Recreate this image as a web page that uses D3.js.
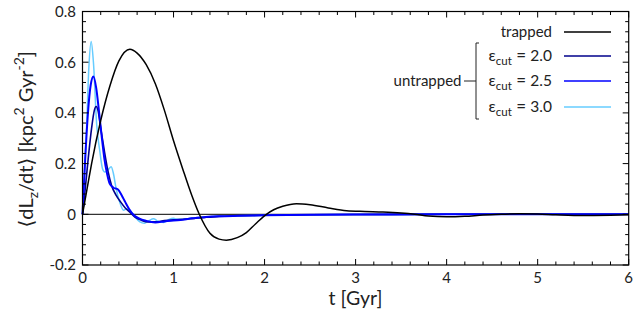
<!DOCTYPE html>
<html><head><meta charset="utf-8">
<script src="https://cdn.jsdelivr.net/npm/d3@7"></script>
<style>
html,body{margin:0;padding:0;background:#fff;}
svg text{font-family:Lato,"DejaVu Sans",sans-serif;fill:#222;}
</style></head>
<body>
<svg id="chart" width="635" height="321"></svg>
<script>
// ---------- data ----------
const xTicks = [0, 1, 2, 3, 4, 5, 6];
const yTicks = [-0.2, 0, 0.2, 0.4, 0.6, 0.8];
const yTickLabels = ["-0.2", "0", "0.2", "0.4", "0.6", "0.8"];

const trappedT = [0,0.05,0.1,0.2,0.3,0.4,0.52,0.6,0.7,0.8,0.9,1.0,1.1,1.2,1.283,1.4,1.5,1.58,1.7,1.8,1.9,2.02,2.1,2.2,2.35,2.5,2.7,2.9,3.1,3.3,3.5,3.65,3.8,4.0,4.2,4.4,4.6,4.8,5.0,5.2,5.5,5.8,6.0];
const trappedV = [0,0.10,0.20,0.37,0.505,0.605,0.651,0.636,0.59,0.515,0.41,0.29,0.18,0.075,0,-0.075,-0.098,-0.102,-0.092,-0.072,-0.038,0,0.018,0.032,0.042,0.038,0.025,0.014,0.011,0.009,0.005,0,-0.007,-0.01,-0.008,-0.003,0,0.002,0.001,-0.002,-0.005,-0.004,-0.002];

const eps20T = [0,0.03,0.06,0.1,0.13,0.15,0.17,0.2,0.24,0.28,0.32,0.37,0.42,0.47,0.52,0.58,0.65,0.72,0.8,0.9,1.0,1.1,1.2,1.35,1.5,1.7,2.0,2.5,3,4,5,6];
const eps20V = [0,0.10,0.21,0.34,0.41,0.425,0.41,0.34,0.25,0.17,0.113,0.075,0.048,0.025,0.008,-0.012,-0.024,-0.03,-0.03,-0.025,-0.022,-0.02,-0.017,-0.012,-0.008,-0.006,-0.004,-0.002,-0.001,0,0,0];

const eps25T = [0,0.03,0.06,0.09,0.12,0.15,0.18,0.21,0.24,0.27,0.3,0.34,0.39,0.43,0.47,0.51,0.56,0.62,0.7,0.8,0.9,1.0,1.1,1.2,1.35,1.5,1.7,2.0,2.5,3,4,5,6];
const eps25V = [0,0.22,0.40,0.51,0.544,0.50,0.41,0.31,0.22,0.16,0.12,0.105,0.098,0.075,0.048,0.022,-0.002,-0.016,-0.026,-0.032,-0.028,-0.024,-0.022,-0.016,-0.011,-0.008,-0.006,-0.004,-0.002,-0.001,0,0,0];

const eps30T = [0,0.02,0.046,0.07,0.095,0.12,0.156,0.19,0.22,0.245,0.28,0.315,0.34,0.37,0.41,0.45,0.49,0.53,0.58,0.63,0.68,0.73,0.78,0.83,0.89,0.95,1.0,1.05,1.1,1.2,1.35,1.5,1.7,2.0,2.5,3,4,5,6];
const eps30V = [0,0.15,0.353,0.58,0.682,0.60,0.353,0.25,0.18,0.167,0.175,0.188,0.16,0.10,0.047,0.016,0.022,0.012,-0.012,-0.03,-0.035,-0.025,-0.018,-0.027,-0.032,-0.02,-0.016,-0.02,-0.02,-0.015,-0.011,-0.008,-0.006,-0.004,-0.002,-0.001,0,0,0];

const seriesNames = ["trapped", "2.0", "2.5", "3.0"];
const seriesColors = ["#000000", "#00008b", "#0000ff", "#66ccff"];
const seriesWidths = [1.5, 1.6, 2.0, 1.5];

// ---------- layout ----------
const svg = d3.select("#chart");
const L = 82.5, R = 628.7, T = 11.5, B = 265;
const x = d3.scaleLinear().domain([0, 6]).range([L, R]);
const y = d3.scaleLinear().domain([-0.2, 0.8]).range([B, T]);

// zero line
svg.append("line").attr("x1", x(0)).attr("x2", x(6)).attr("y1", y(0)).attr("y2", y(0))
  .attr("stroke", "#000").attr("stroke-width", 1);

// series
const line = d3.line().x(d => x(d[0])).y(d => y(d[1])).curve(d3.curveMonotoneX);
const allT = [trappedT, eps20T, eps25T, eps30T];
const allV = [trappedV, eps20V, eps25V, eps30V];
const g = svg.append("g");
[3, 1, 2, 0].forEach(i => {
  const pts = allT[i].map((t, j) => [t, allV[i][j]]);
  g.append("path").datum(pts).attr("d", line).attr("fill", "none")
    .attr("stroke", seriesColors[i]).attr("stroke-width", seriesWidths[i])
    .attr("stroke-linejoin", "round");
});

// frame
svg.append("rect").attr("x", L).attr("y", T).attr("width", R - L).attr("height", B - T)
  .attr("fill", "none").attr("stroke", "#000").attr("stroke-width", 1.2);

// ticks (inward, mirrored)
const xMinor = d3.range(0, 6.0001, 0.2);
const yMinor = d3.range(-0.2, 0.8001, 0.04);
function isMajorX(v){ return Math.abs(v - Math.round(v)) < 1e-6; }
function isMajorY(v){ return Math.abs(v/0.2 - Math.round(v/0.2)) < 1e-6; }
const tk = svg.append("g").attr("stroke", "#000").attr("stroke-width", 1);
xMinor.forEach(v => {
  const len = isMajorX(v) ? 6 : 3.5;
  tk.append("line").attr("x1", x(v)).attr("x2", x(v)).attr("y1", B).attr("y2", B - len);
  tk.append("line").attr("x1", x(v)).attr("x2", x(v)).attr("y1", T).attr("y2", T + len);
});
yMinor.forEach(v => {
  const len = isMajorY(v) ? 6 : 3.5;
  tk.append("line").attr("y1", y(v)).attr("y2", y(v)).attr("x1", L).attr("x2", L + len);
  tk.append("line").attr("y1", y(v)).attr("y2", y(v)).attr("x1", R).attr("x2", R - len);
});

// tick labels
xTicks.forEach(v => {
  svg.append("text").attr("x", x(v)).attr("y", 282.5).attr("text-anchor", "middle")
    .attr("font-size", 15).text(v);
});
yTicks.forEach((v, i) => {
  svg.append("text").attr("x", 76).attr("y", y(v) + 5.3).attr("text-anchor", "end")
    .attr("font-size", 15).text(yTickLabels[i]);
});

// axis labels
svg.append("text").attr("x", (L + R) / 2).attr("y", 305).attr("text-anchor", "middle")
  .attr("font-size", 19.5).text("t [Gyr]");

const yl = svg.append("text").attr("transform", `translate(33,${(T + B) / 2 + 1}) rotate(-90)`)
  .attr("text-anchor", "middle").attr("font-size", 20);
yl.append("tspan").text("⟨dL");
yl.append("tspan").attr("font-size", 14).attr("dy", 5).text("z");
yl.append("tspan").attr("dy", -5).text("/dt⟩ [kpc");
yl.append("tspan").attr("font-size", 14).attr("dy", -9).text("2");
yl.append("tspan").attr("dy", 9).text("  Gyr");
yl.append("tspan").attr("font-size", 14).attr("dy", -9).text("-2");
yl.append("tspan").attr("dy", 9).text("]");

// legend
const legY = [32, 56, 81, 107];
const lx1 = 564, lx2 = 611, textR = 552;
seriesNames.forEach((name, i) => {
  svg.append("line").attr("x1", lx1).attr("x2", lx2).attr("y1", legY[i]).attr("y2", legY[i])
    .attr("stroke", seriesColors[i]).attr("stroke-width", 1.6);
  const t = svg.append("text").attr("x", textR).attr("y", legY[i] + 5).attr("text-anchor", "end")
    .attr("font-size", 15);
  if (i === 0) {
    t.text(name);
  } else {
    t.append("tspan").attr("font-size", 16).text("ε");
    t.append("tspan").attr("font-size", 11.5).attr("dy", 4).text("cut");
    t.append("tspan").attr("dy", -4).attr("font-size", 17).text(" = ");
    t.append("tspan").attr("font-size", 15.5).text(name);
  }
});
// bracket for untrapped
const bx = 476, by1 = 43, by2 = 119;
svg.append("path").attr("d", `M${bx + 3},${by1} H${bx} V${by2} H${bx + 3}`)
  .attr("fill", "none").attr("stroke", "#222").attr("stroke-width", 1);
svg.append("line").attr("x1", 464).attr("x2", bx).attr("y1", 81).attr("y2", 81)
  .attr("stroke", "#222").attr("stroke-width", 1);
svg.append("text").attr("x", 461.5).attr("y", 86).attr("text-anchor", "end")
  .attr("font-size", 15).text("untrapped");
</script>
</body></html>
